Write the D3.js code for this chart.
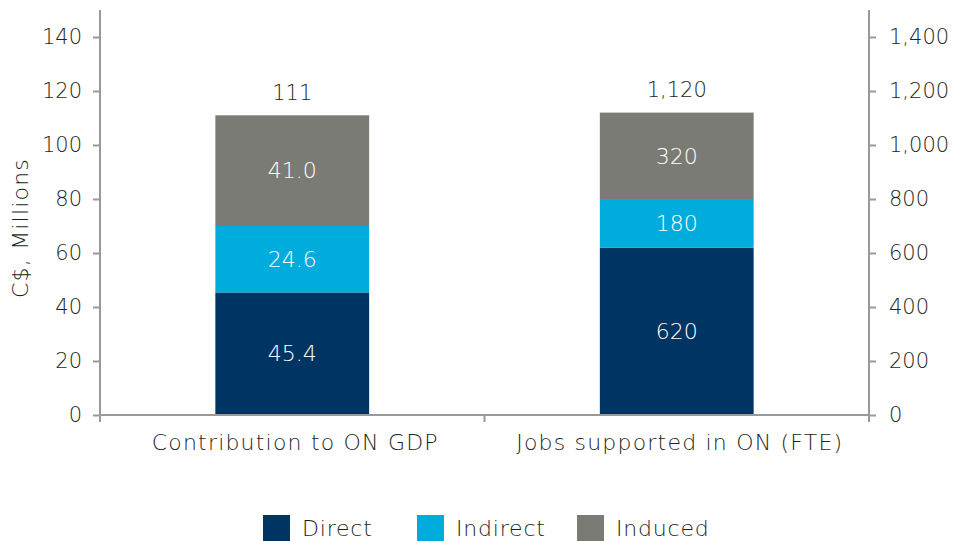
<!DOCTYPE html>
<html>
<head>
<meta charset="utf-8">
<script src="https://cdn.jsdelivr.net/npm/d3@7"></script>
<style>
    body { margin: 0; background: #fff; }
    svg text { font-family: 'DejaVu Sans', sans-serif; font-weight: 200; fill: #231f20; }
</style>
</head>
<body>
<div class="chart"></div>
<script>
var categories = ['Contribution to ON GDP', 'Jobs supported in ON (FTE)'];
var seriesNames = ['Direct', 'Indirect', 'Induced'];
var gdpValues = [45.4, 24.6, 41.0];
var jobValues = [620, 180, 320];
var totalLabels = ['111', '1,120'];
var segmentLabels = [['45.4', '24.6', '41.0'], ['620', '180', '320']];
var leftTicks = [0, 20, 40, 60, 80, 100, 120, 140];
var rightTicks = [0, 200, 400, 600, 800, 1000, 1200, 1400];

var colors = ['#003462', '#00acdc', '#7b7b76'];
var axisColor = '#999999';

var width = 953, height = 541;
var plotLeft = 100, plotRight = 869, plotTop = 10, plotBottom = 415;

var svg = d3.select('.chart').append('svg')
    .attr('width', width)
    .attr('height', height);

var x = d3.scaleBand()
    .domain(categories)
    .range([plotLeft, plotRight])
    .paddingInner(0.6)
    .paddingOuter(0.3);

var yLeft = d3.scaleLinear().domain([0, 150]).range([plotBottom, plotTop]);
var yRight = d3.scaleLinear().domain([0, 1500]).range([plotBottom, plotTop]);

// stack each bar on its own axis
var bars = [
    {cat: categories[0], values: gdpValues, scale: yLeft, total: totalLabels[0], labels: segmentLabels[0]},
    {cat: categories[1], values: jobValues, scale: yRight, total: totalLabels[1], labels: segmentLabels[1]}
];

bars.forEach(function(b) {
    var base = 0;
    var segs = b.values.map(function(v, i) {
        var s = {y0: base, y1: base + v, color: colors[i], label: b.labels[i]};
        base += v;
        return s;
    });
    var g = svg.append('g');
    g.selectAll('rect')
        .data(segs)
        .enter().append('rect')
            .attr('x', x(b.cat))
            .attr('width', x.bandwidth())
            .attr('y', function(d) { return b.scale(d.y1); })
            .attr('height', function(d) { return b.scale(d.y0) - b.scale(d.y1); })
            .style('fill', function(d) { return d.color; });
    g.selectAll('text.seg')
        .data(segs)
        .enter().append('text')
            .attr('class', 'seg')
            .attr('x', x(b.cat) + x.bandwidth() / 2)
            .attr('y', function(d) { return (b.scale(d.y0) + b.scale(d.y1)) / 2; })
            .attr('dy', '0.35em')
            .attr('text-anchor', 'middle')
            .style('font-size', '22px')
            .style('fill', '#ffffff')
            .text(function(d) { return d.label; });
    g.append('text')
        .attr('x', x(b.cat) + x.bandwidth() / 2)
        .attr('y', b.scale(base) - 23)
        .attr('dy', '0.35em')
        .attr('text-anchor', 'middle')
        .style('font-size', '21px')
        .text(b.total);
});

// axes
var leftAxis = d3.axisLeft(yLeft).tickValues(leftTicks).tickSize(7).tickPadding(11).tickSizeOuter(0);
var rightAxis = d3.axisRight(yRight).tickValues(rightTicks).tickSize(7).tickPadding(13).tickSizeOuter(0)
    .tickFormat(d3.format(','));

function styleAxis(g) {
    g.select('.domain').remove();
    g.selectAll('line').style('stroke', axisColor).style('stroke-width', 2);
    g.selectAll('text').style('font-size', '21px').style('fill', '#231f20').attr('font-family', null);
}

svg.append('g').attr('transform', 'translate(' + plotLeft + ',0)').call(leftAxis).call(styleAxis);
svg.append('g').attr('transform', 'translate(' + plotRight + ',0)').call(rightAxis).call(styleAxis)
    .selectAll('text').attr('text-anchor', 'start');

// vertical axis lines, running a bit below the baseline
[plotLeft, plotRight].forEach(function(px) {
    svg.append('line')
        .attr('x1', px).attr('x2', px)
        .attr('y1', plotTop).attr('y2', plotBottom + 7)
        .style('stroke', axisColor).style('stroke-width', 2);
});

// baseline with category divider
svg.append('line')
    .attr('x1', plotLeft).attr('x2', plotRight)
    .attr('y1', plotBottom).attr('y2', plotBottom)
    .style('stroke', axisColor).style('stroke-width', 2);

svg.append('line')
    .attr('x1', (plotLeft + plotRight) / 2).attr('x2', (plotLeft + plotRight) / 2)
    .attr('y1', plotBottom).attr('y2', plotBottom + 7)
    .style('stroke', axisColor).style('stroke-width', 2);

svg.selectAll('text.cat')
    .data(categories)
    .enter().append('text')
        .attr('class', 'cat')
        .attr('x', function(d) { return x(d) + x.bandwidth() / 2 + 3; })
        .attr('y', 442)
        .attr('dy', '0.35em')
        .attr('text-anchor', 'middle')
        .style('font-size', '22px')
        .style('letter-spacing', '1.2px')
        .text(function(d) { return d; });

svg.append('text')
    .attr('transform', 'translate(20,228) rotate(-90)')
    .attr('dy', '0.35em')
    .attr('text-anchor', 'middle')
    .style('font-size', '22px')
    .style('letter-spacing', '1.2px')
    .text('C$, Millions');

// legend
var legendX = [263, 417, 577];
var legend = svg.selectAll('g.legend')
    .data(seriesNames)
    .enter().append('g')
        .attr('class', 'legend')
        .attr('transform', function(d, i) { return 'translate(' + legendX[i] + ',515)'; });

legend.append('rect')
    .attr('width', 27)
    .attr('height', 26)
    .style('fill', function(d, i) { return colors[i]; });

legend.append('text')
    .attr('x', 39)
    .attr('y', 13)
    .attr('dy', '0.35em')
    .style('font-size', '22px')
    .style('letter-spacing', '0.8px')
    .text(function(d) { return d; });
</script>
</body>
</html>
